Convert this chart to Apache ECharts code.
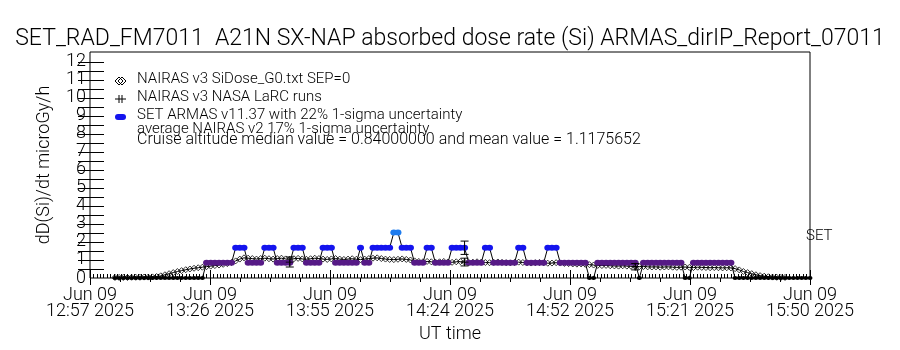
<!DOCTYPE html>
<html>
<head>
<meta charset="utf-8">
<script src="https://cdn.jsdelivr.net/npm/echarts@6/dist/echarts.min.js"></script>
<style>
html, body { margin: 0; padding: 0; background: #fff; }
#chart { width: 900px; height: 350px; }
</style>
</head>
<body>
<div id="chart"></div>
<script>
// time axis (UT, Jun 09 2025)
var axisStart = '12:57';
var axisEnd = '15:50';
var tickLabels = ['12:57', '13:26', '13:55', '14:24', '14:52', '15:21', '15:50'];
var yLabels = [0, 1, 2, 3, 4, 5, 6, 7, 8, 9, 10, 11, 12];

// SET ARMAS dose rate, one value per minute from armasStart
var armasStart = '13:03';
var armasValues = [
    0, 0, 0, 0, 0, 0, 0, 0, 0, 0, 0, 0, 0, 0, 0, 0, 0, 0, 0, 0, 0, 0,
    0.84, 0.84, 0.84, 0.84, 0.84, 0.84, 0.84,
    1.68, 1.68, 1.68,
    0.84, 0.84, 0.84, 0.84,
    1.68, 1.68, 1.68,
    0.84, 0.84, 0.84, 0.84,
    1.68, 1.68, 1.68,
    0.84, 0.84, 0.84, 0.84,
    1.68, 1.68, 1.68,
    0.84, 0.84, 0.84, 0.84, 0.84, 0.84,
    1.68,
    0.84, 0.84,
    1.68, 1.68, 1.68, 1.68, 1.68,
    2.52, 2.52,
    1.68, 1.68, 1.68,
    0.84, 0.84, 0.84,
    1.68, 1.68,
    0.84, 0.84, 0.84, 0.84,
    1.68, 1.68, 1.68, 1.68,
    0.84, 0.84, 0.84, 0.84,
    1.68, 1.68,
    0.84, 0.84, 0.84, 0.84, 0.84, 0.84,
    1.68, 1.68,
    0.84, 0.84, 0.84, 0.84, 0.84,
    1.68, 1.68, 1.68,
    0.84, 0.84, 0.84, 0.84, 0.84, 0.84, 0.84,
    0, 0,
    0.84, 0.84, 0.84, 0.84, 0.84, 0.84, 0.84, 0.84, 0.84, 0.84,
    0,
    0.84, 0.84, 0.84, 0.84, 0.84, 0.84, 0.84, 0.84, 0.84, 0.84,
    0, 0,
    0.84, 0.84, 0.84, 0.84, 0.84, 0.84, 0.84, 0.84, 0.84, 0.84,
    0, 0, 0, 0, 0, 0, 0, 0, 0, 0, 0, 0, 0, 0, 0, 0, 0, 0, 0
];

// NAIRAS v3 SiDose_G0, one value per minute from sidoseStart
var sidoseStart = '13:03';
var sidoseValues = [
    0.03, 0.03, 0.03, 0.03, 0.04, 0.04, 0.04, 0.05, 0.05, 0.06, 0.08,
    0.12, 0.18, 0.24, 0.30, 0.36, 0.41, 0.46, 0.50, 0.54, 0.57, 0.60,
    0.63, 0.66, 0.69, 0.72, 0.76, 0.80, 0.86, 0.95, 1.05, 1.12,
    1.10, 1.08, 1.05, 1.08, 1.10, 1.07, 1.05, 1.08, 1.10, 1.06,
    1.04, 1.07, 1.09, 1.06, 1.04, 1.07, 1.10, 1.08, 1.05, 1.03,
    1.06, 1.08, 1.05, 1.03, 1.05, 1.07, 1.04, 1.02, 1.05, 1.08,
    1.10, 1.12, 1.08, 1.05, 1.03, 1.02, 1.04, 1.06, 1.03, 1.00,
    0.95, 0.92, 0.90, 0.92, 0.90, 0.88, 0.90, 0.92, 0.89, 0.87,
    0.90, 0.91, 0.88, 0.86, 0.88, 0.90, 0.88, 0.86, 0.85, 0.87,
    0.89, 0.87, 0.85, 0.84, 0.86, 0.88, 0.86, 0.84, 0.83, 0.85,
    0.86, 0.84, 0.82, 0.83, 0.85,
    0.83, 0.81, 0.80, 0.78, 0.77, 0.78, 0.76, 0.74, 0.72, 0.70,
    0.69, 0.70, 0.68, 0.67, 0.66, 0.68, 0.66, 0.65, 0.64,
    0.63, 0.64, 0.62, 0.61, 0.62, 0.60, 0.61, 0.62, 0.60, 0.59,
    0.60, 0.61, 0.59, 0.58, 0.60, 0.59, 0.58, 0.57, 0.58, 0.57,
    0.56, 0.57, 0.56,
    0.52, 0.45, 0.36, 0.30, 0.24, 0.18, 0.13, 0.10, 0.07, 0.05, 0.04, 0.03, 0.03
];

// NAIRAS v3 NASA LaRC runs (with 17% bars)
var larcTimes = ['13:45', '14:27', '15:08'];
var larcValues = [0.88, 0.88, 0.62];
var larcLow = [0.61, 0.67, 0.45];
var larcHigh = [1.17, 1.10, 0.80];

// ARMAS 22% uncertainty bar
var armasErrTimes = ['14:27'];
var armasErrLow = [1.31];
var armasErrHigh = [2.05];

var FONT = 'Roboto';
var FW = 300;

function toMin(t) {
    var p = t.split(':');
    return parseInt(p[0], 10) * 60 + parseInt(p[1], 10);
}
var t0 = toMin(axisStart);
var span = toMin(axisEnd) - t0;
var step = span / (tickLabels.length - 1);

//各时间点
var armasData = [], sidoseData = [], larcData = [], errData = [];
for (var i = 0; i < armasValues.length; i++) {
    armasData.push([toMin(armasStart) - t0 + i, armasValues[i]]);
}
for (var j = 0; j < sidoseValues.length; j++) {
    sidoseData.push([toMin(sidoseStart) - t0 + j, sidoseValues[j]]);
}
for (var k = 0; k < larcTimes.length; k++) {
    larcData.push([toMin(larcTimes[k]) - t0, larcValues[k]]);
    errData.push([toMin(larcTimes[k]) - t0, larcLow[k], larcHigh[k]]);
}
for (var e = 0; e < armasErrTimes.length; e++) {
    errData.push([toMin(armasErrTimes[e]) - t0, armasErrLow[e], armasErrHigh[e]]);
}

function doseColor(v) {
    if (v <= 0) return '#000000';
    if (v < 1.2) return '#561a86';
    if (v < 2.0) return '#1414ee';
    return '#1e7cee';
}

var halfTicks = [];
for (var h = 1; h <= 24; h++) halfTicks.push(h / 2);

function txt(x, y, s, size) {
    return { type: 'text', left: x, top: y, style: { text: s, font: FW + ' ' + size + 'px ' + FONT, fill: '#000' } };
}

var dom = document.getElementById('chart');
var myChart = echarts.init(dom);
var option = {
    animation: false,
    backgroundColor: '#fff',
    textStyle: { fontFamily: FONT, fontWeight: FW, color: '#000' },
    title: {
        text: 'SET_RAD_FM7011  A21N SX-NAP absorbed dose rate (Si) ARMAS_dirIP_Report_07011',
        left: 'center',
        top: 23,
        textStyle: { fontFamily: FONT, fontSize: 23, fontWeight: FW, color: '#000' }
    },
    grid: {
        left: 90, right: 90, top: 52, bottom: 72,
        show: true, borderColor: '#000', borderWidth: 1
    },
    xAxis: [
        {
            type: 'value', position: 'bottom', min: 0, max: span, interval: step,
            axisLine: { show: false },
            axisTick: { inside: true, length: 8, lineStyle: { color: '#000' } },
            minorTick: { show: true, splitNumber: 35, length: 4, lineStyle: { color: '#000' } },
            splitLine: { show: false },
            axisLabel: {
                margin: 9, fontSize: 18, lineHeight: 16, color: '#000', fontFamily: FONT, fontWeight: FW,
                formatter: function (v) {
                    var idx = Math.round(v / step);
                    return 'Jun 09\n' + tickLabels[idx] + ' 2025';
                }
            },
            name: 'UT time', nameLocation: 'middle', nameGap: 47,
            nameTextStyle: { fontSize: 18, color: '#000', fontFamily: FONT, fontWeight: FW }
        },
        {
            type: 'value', position: 'top', min: 0, max: span, interval: step,
            axisLine: { show: false },
            axisTick: { inside: true, length: 7, lineStyle: { color: '#000' } },
            minorTick: { show: true, splitNumber: 4, length: 4, lineStyle: { color: '#000' } },
            splitLine: { show: false },
            axisLabel: { show: false }
        }
    ],
    yAxis: [
        {
            type: 'value', position: 'left', min: 0, max: 12.55,
            axisLine: { show: false },
            axisTick: { inside: true, length: 14, customValues: halfTicks, lineStyle: { color: '#000' } },
            splitLine: { show: false },
            axisLabel: { customValues: yLabels, margin: 4, fontSize: 18, color: '#000', fontFamily: FONT, fontWeight: FW },
            name: 'dD(Si)/dt microGy/h', nameLocation: 'middle', nameGap: 37,
            nameTextStyle: { fontSize: 18, color: '#000', fontFamily: FONT, fontWeight: FW }
        },
        {
            type: 'value', position: 'right', min: 0, max: 12.55,
            axisLine: { show: false },
            axisTick: { inside: true, length: 12, customValues: halfTicks, lineStyle: { color: '#000' } },
            splitLine: { show: false },
            axisLabel: { show: false }
        }
    ],
    graphic: [
        // legend
        { type: 'polygon', shape: { points: [[119, 77], [123, 81], [119, 85], [115, 81]] }, style: { fill: 'none', stroke: '#000', lineWidth: 1 } },
        { type: 'polygon', shape: { points: [[122, 77], [126, 81], [122, 85], [118, 81]] }, style: { fill: 'none', stroke: '#000', lineWidth: 1 } },
        txt(137, 72, 'NAIRAS v3 SiDose_G0.txt SEP=0', 15),
        { type: 'polyline', shape: { points: [[115, 99], [126, 99]] }, style: { stroke: '#000', lineWidth: 1 } },
        { type: 'polyline', shape: { points: [[119, 95], [119, 103]] }, style: { stroke: '#000', lineWidth: 1 } },
        { type: 'polyline', shape: { points: [[122, 95], [122, 103]] }, style: { stroke: '#000', lineWidth: 1 } },
        txt(137, 90, 'NAIRAS v3 NASA LaRC runs', 15),
        { type: 'rect', shape: { x: 115, y: 114, width: 11, height: 6, r: 3 }, style: { fill: '#1414ee' } },
        txt(137, 108, 'SET ARMAS v11.37 with 22% 1-sigma uncertainty', 15),
        txt(137, 122, 'average NAIRAS v2 17% 1-sigma uncertainty', 15),
        txt(137, 132, 'Cruise altitude median value = 0.84000000 and mean value = 1.1175652', 16),
        txt(806, 229, 'SET', 15)
    ],
    series: [
        {
            name: 'NAIRAS v3 SiDose_G0.txt SEP=0',
            type: 'line',
            data: sidoseData,
            symbol: 'diamond',
            symbolSize: [6, 6],
            showAllSymbol: true,
            lineStyle: { color: '#000', width: 1 },
            itemStyle: { color: 'rgba(0,0,0,0)', borderColor: '#000', borderWidth: 0.8 },
            z: 2
        },
        {
            name: 'SET ARMAS v11.37',
            type: 'line',
            data: armasData,
            symbol: 'circle',
            symbolSize: function (v) { return v[1] > 0 ? [7, 6] : [5, 4]; },
            showAllSymbol: true,
            lineStyle: { color: '#000', width: 1 },
            itemStyle: {
                color: function (p) { return doseColor(p.value[1]); },
                borderWidth: 0
            },
            z: 3
        },
        {
            name: 'NAIRAS v3 NASA LaRC runs',
            type: 'scatter',
            data: larcData,
            symbol: 'path://M0,5L10,5M5,0L5,10',
            symbolSize: 8,
            itemStyle: { color: 'rgba(0,0,0,0)', borderColor: '#000', borderWidth: 1 },
            z: 4
        },
        {
            name: 'uncertainty',
            type: 'custom',
            data: errData,
            encode: { x: 0, y: [1, 2] },
            renderItem: function (params, api) {
                var lo = api.coord([api.value(0), api.value(1)]);
                var hi = api.coord([api.value(0), api.value(2)]);
                var w = 4;
                var st = { stroke: '#000', lineWidth: 1 };
                return {
                    type: 'group',
                    children: [
                        { type: 'line', shape: { x1: lo[0], y1: lo[1], x2: hi[0], y2: hi[1] }, style: st },
                        { type: 'line', shape: { x1: lo[0] - w, y1: lo[1], x2: lo[0] + w, y2: lo[1] }, style: st },
                        { type: 'line', shape: { x1: hi[0] - w, y1: hi[1], x2: hi[0] + w, y2: hi[1] }, style: st }
                    ]
                };
            },
            z: 5
        }
    ]
};
myChart.setOption(option);
</script>
</body>
</html>
